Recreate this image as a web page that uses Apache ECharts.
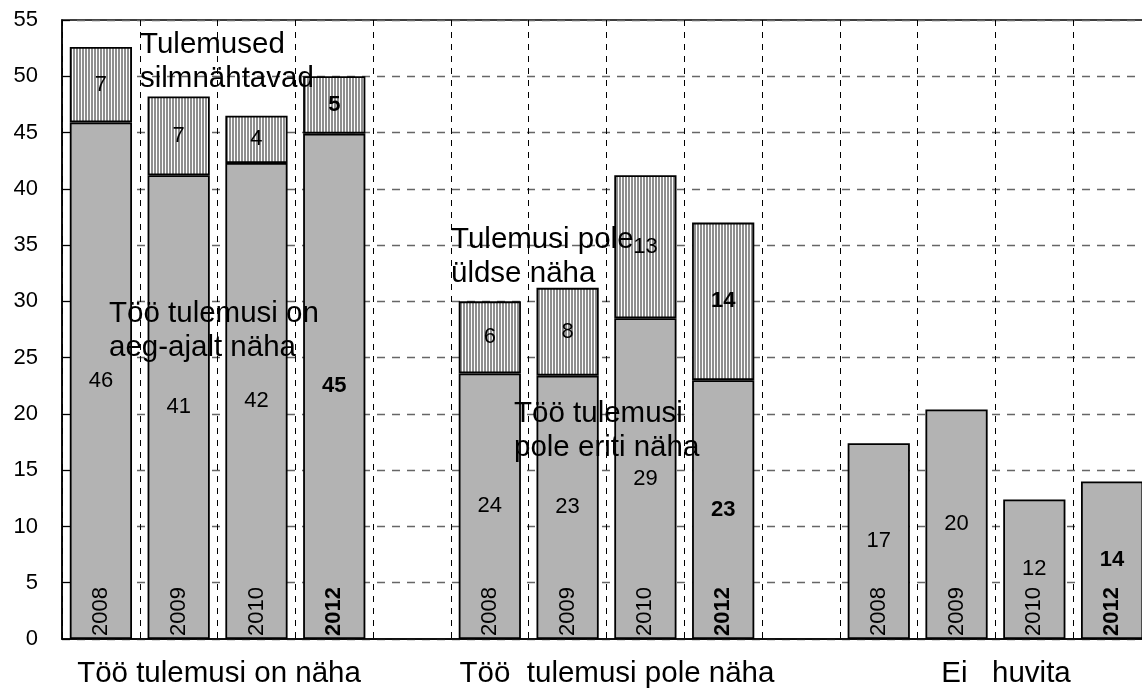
<!DOCTYPE html>
<html>
<head>
<meta charset="utf-8">
<script src="https://cdn.jsdelivr.net/npm/echarts@6/dist/echarts.min.js"></script>
<style>
  html, body { margin: 0; padding: 0; background: #fff; }
  #main { width: 1142px; height: 691px; }
</style>
</head>
<body>
<div id="main"></div>
<script>
  // aastad, tühjad kohad gruppide vahel
  var years = ['2008', '2009', '2010', '2012', '', '2008', '2009', '2010', '2012', '', '2008', '2009', '2010', '2012'];
  // alumine (hall) osa
  var lowerValues = [45.9, 41.2, 42.3, 44.9, null, 23.6, 23.4, 28.5, 23.0, null, 17.4, 20.4, 12.4, 14.0];
  // ülemine (triibuline) osa
  var upperValues = [6.7, 7.0, 4.2, 5.1, null, 6.4, 7.8, 12.7, 14.0, null, null, null, null, null];
  var yTicks = [0, 55, 5];
  var groupNames = ['Töö tulemusi on näha', 'Töö  tulemusi pole näha', 'Ei   huvita'];

  var FONT = '"Liberation Sans", Arial, sans-serif';

  // vertikaalsete triipude muster
  var pat = document.createElement('canvas');
  pat.width = 3;
  pat.height = 4;
  var ctx = pat.getContext('2d');
  ctx.fillStyle = '#ffffff';
  ctx.fillRect(0, 0, 3, 4);
  ctx.fillStyle = '#8f8f8f';
  ctx.fillRect(1, 0, 2, 4);

  function isBold(i) { return years[i] === '2012'; }

  function makeData(arr) {
    return arr.map(function (v, i) {
      if (v === null) return '-';
      return {
        value: v,
        label: { fontWeight: isBold(i) ? 'bold' : 'normal' }
      };
    });
  }

  var catData = years.map(function (y) {
    return { value: y, textStyle: { fontWeight: y === '2012' ? 'bold' : 'normal' } };
  });

  var myChart = echarts.init(document.getElementById('main'));

  var option = {
    animation: false,
    textStyle: { fontFamily: FONT },
    grid: {
      left: 62,
      top: 20,
      width: 1089,
      bottom: 52,
      outerBoundsMode: 'none',
      show: true,
      borderColor: '#000',
      borderWidth: 1.5,
      backgroundColor: 'transparent'
    },
    xAxis: {
      type: 'category',
      data: catData,
      z: 10,
      axisLine: { lineStyle: { color: '#000', width: 1.5 } },
      axisTick: { show: false },
      axisLabel: {
        inside: true,
        rotate: 90,
        margin: 3,
        interval: 0,
        color: '#000',
        fontSize: 22,
        fontFamily: FONT
      },
      splitLine: {
        show: true,
        interval: 0,
        lineStyle: { color: '#000', type: [6, 6], width: 1 }
      }
    },
    yAxis: {
      type: 'value',
      min: yTicks[0],
      max: yTicks[1],
      interval: yTicks[2],
      axisLine: { show: true, lineStyle: { color: '#000', width: 1.5 } },
      axisTick: { show: true, inside: true, length: 8, lineStyle: { color: '#000' } },
      axisLabel: { color: '#000', fontSize: 22, margin: 24, fontFamily: FONT },
      splitLine: {
        show: true,
        lineStyle: { color: '#666', type: [8, 7], width: 1.3 }
      }
    },
    series: [
      {
        name: 'lower',
        type: 'bar',
        stack: 'total',
        barCategoryGap: '20%',
        data: makeData(lowerValues),
        itemStyle: { color: '#b3b3b3', borderColor: '#000', borderWidth: 1.8 },
        label: {
          show: true,
          position: 'inside',
          color: '#000',
          fontSize: 22,
          fontFamily: FONT,
          formatter: function (p) { return Math.round(p.value); }
        }
      },
      {
        name: 'upper',
        type: 'bar',
        stack: 'total',
        barCategoryGap: '20%',
        data: makeData(upperValues),
        itemStyle: { color: { image: pat, repeat: 'repeat' }, borderColor: '#000', borderWidth: 1.8 },
        label: {
          show: true,
          position: 'inside',
          color: '#000',
          fontSize: 22,
          fontFamily: FONT,
          formatter: function (p) { return Math.round(p.value); }
        }
      }
    ]
  };

  myChart.setOption(option);

  // pildil olevad tekstid
  var bigFont = '29.5px ' + FONT;
  function note(text, x, y) {
    return {
      type: 'text',
      z: 100,
      style: {
        text: text, x: x, y: y, font: bigFont, fill: '#000',
        align: 'left', verticalAlign: 'top', lineHeight: 34
      }
    };
  }
  var groupX = [219, 617, 1006];
  var graphics = [
    note('Tulemused\nsilmnähtavad', 140, 28),
    note('Töö tulemusi on\naeg-ajalt näha', 109, 297),
    note('Tulemusi pole\nüldse näha', 451, 223),
    note('Töö tulemusi\npole eriti näha', 514, 397)
  ];
  groupNames.forEach(function (name, i) {
    graphics.push({
      type: 'text',
      style: {
        text: name, x: groupX[i], y: 674, font: bigFont, fill: '#000',
        align: 'center', verticalAlign: 'middle'
      }
    });
  });
  myChart.setOption({ graphic: graphics });
</script>
</body>
</html>
